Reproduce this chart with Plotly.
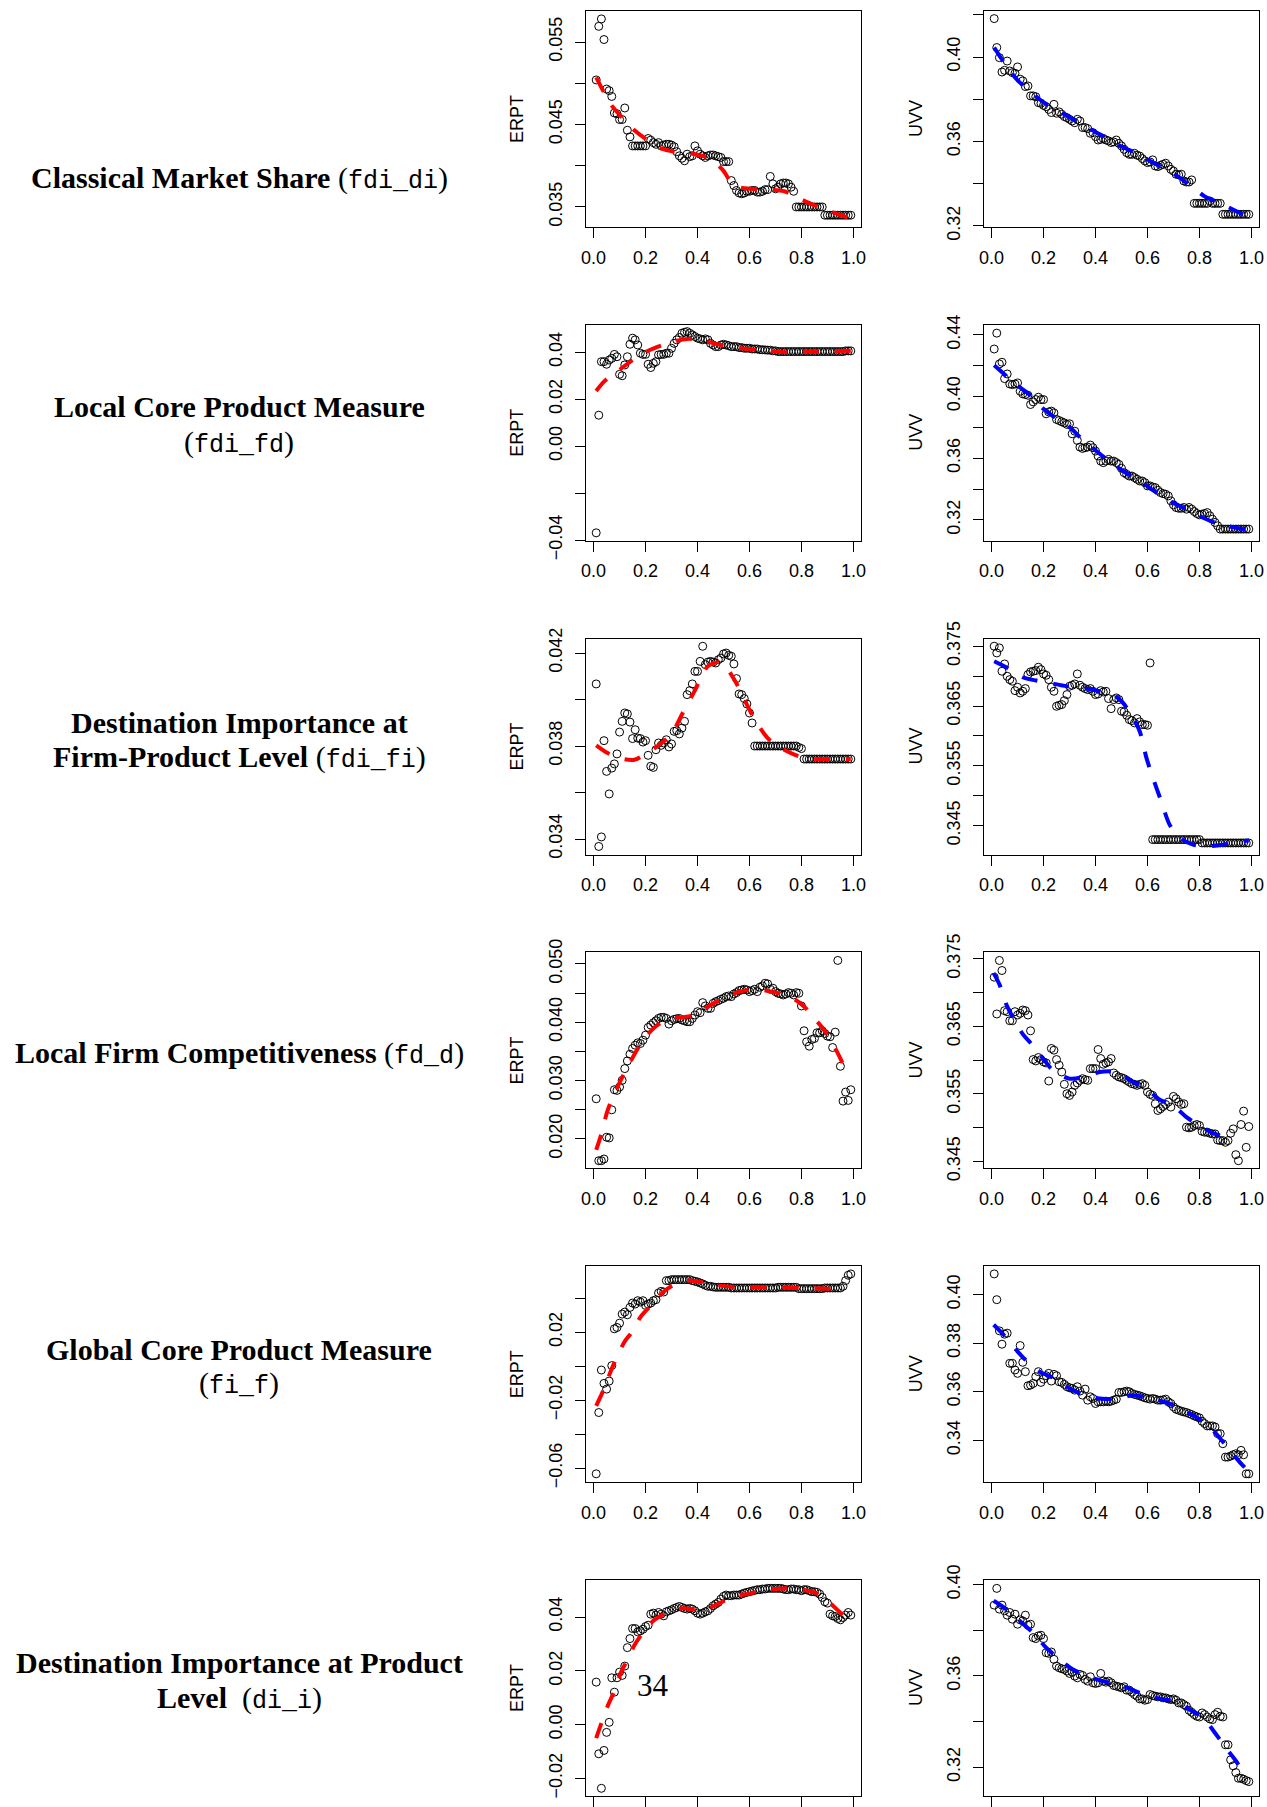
import plotly.graph_objects as go

W, H = 1267, 1807

# quantile grid (x axis of every panel)
X = [i / 100 for i in range(1, 100)]
X_TICKS = [0.0, 0.2, 0.4, 0.6, 0.8, 1.0]
X_TICKTEXT = ["0.0", "0.2", "0.4", "0.6", "0.8", "1.0"]

# ---------------- Row 1: fdi_di ----------------
erpt_fdi_di = [0.0504, 0.0569, 0.0578, 0.0553, 0.0493, 0.0491, 0.0484, 0.0464, 0.0463, 0.0456,
               0.0456, 0.0470, 0.0443, 0.0435, 0.0424, 0.0424, 0.0424, 0.0424, 0.0424, 0.0424,
               0.0433, 0.0431, 0.0428, 0.0426, 0.0428, 0.0424, 0.0425, 0.0426, 0.0426, 0.0425,
               0.0423, 0.0417, 0.0412, 0.0409, 0.0406, 0.0414, 0.0411, 0.0412, 0.0424, 0.0418,
               0.0414, 0.0412, 0.0410, 0.0412, 0.0413, 0.0413, 0.0412, 0.0411, 0.0410, 0.0405,
               0.0405, 0.0405, 0.0382, 0.0376, 0.0370, 0.0367, 0.0366, 0.0367, 0.0369, 0.0369,
               0.0370, 0.0370, 0.0368, 0.0368, 0.0369, 0.0371, 0.0371, 0.0387, 0.0378, 0.0372,
               0.0374, 0.0378, 0.0379, 0.0379, 0.0378, 0.0374, 0.0369, 0.0350, 0.0350, 0.0350,
               0.0350, 0.0350, 0.0350, 0.0350, 0.0350, 0.0350, 0.0350, 0.0350, 0.0340, 0.0340,
               0.0340, 0.0340, 0.0340, 0.0340, 0.0340, 0.0340, 0.0340, 0.0340, 0.0340]
erpt_fdi_di_fit_x = [0.01, 0.067, 0.108, 0.157, 0.208, 0.26, 0.31, 0.39, 0.445, 0.497, 0.54,
                     0.606, 0.657, 0.734, 0.779, 0.85, 0.90, 0.99]
erpt_fdi_di_fit_y = [0.0507, 0.0474, 0.0459, 0.0443, 0.0431, 0.0421, 0.0417, 0.0414, 0.0409,
                     0.0395, 0.0376, 0.0372, 0.0371, 0.0369, 0.0362, 0.0352, 0.0346, 0.0336]

uvv_fdi_di = [0.4182, 0.4045, 0.3997, 0.3929, 0.3937, 0.3981, 0.3934, 0.3926, 0.3923, 0.3953,
              0.3895, 0.3887, 0.3860, 0.3863, 0.3816, 0.3816, 0.3812, 0.3784, 0.3781, 0.3771,
              0.3765, 0.3752, 0.3737, 0.3776, 0.3734, 0.3740, 0.3729, 0.3718, 0.3713, 0.3705,
              0.3697, 0.3689, 0.3705, 0.3697, 0.3666, 0.3666, 0.3661, 0.3639, 0.3642, 0.3623,
              0.3607, 0.3610, 0.3614, 0.3607, 0.3603, 0.3595, 0.3598, 0.3607, 0.3591, 0.3579,
              0.3563, 0.3547, 0.3539, 0.3539, 0.3544, 0.3535, 0.3531, 0.3519, 0.3508, 0.3500,
              0.3503, 0.3513, 0.3484, 0.3481, 0.3487, 0.3492, 0.3497, 0.3484, 0.3468, 0.3460,
              0.3445, 0.3442, 0.3445, 0.3413, 0.3408, 0.3408, 0.3418, 0.3307, 0.3307, 0.3307,
              0.3307, 0.3307, 0.3307, 0.3318, 0.3307, 0.3307, 0.3307, 0.3307, 0.3255, 0.3255,
              0.3255, 0.3255, 0.3255, 0.3255, 0.3255, 0.3255, 0.3255, 0.3255, 0.3255]
uvv_fdi_di_fit_x = [0.01, 0.05, 0.1, 0.15, 0.2, 0.25, 0.3, 0.35, 0.4, 0.45, 0.5, 0.55, 0.6,
                    0.65, 0.7, 0.75, 0.78, 0.82, 0.86, 0.9, 0.95, 0.99]
uvv_fdi_di_fit_y = [0.4045, 0.3970, 0.3890, 0.3835, 0.3785, 0.3750, 0.3715, 0.3680, 0.3645,
                    0.3613, 0.3576, 0.3548, 0.3515, 0.3482, 0.3448, 0.3405, 0.3378, 0.3340,
                    0.3318, 0.3295, 0.3265, 0.3240]

# ---------------- Row 2: fdi_fd ----------------
erpt_fdi_fd = [-0.0369, 0.0132, 0.0360, 0.0360, 0.0349, 0.0367, 0.0374, 0.0391, 0.0381, 0.0306,
               0.0300, 0.0346, 0.0381, 0.0434, 0.0460, 0.0453, 0.0431, 0.0396, 0.0391, 0.0391,
               0.0349, 0.0335, 0.0353, 0.0360, 0.0389, 0.0391, 0.0391, 0.0396, 0.0396, 0.0417,
               0.0438, 0.0453, 0.0463, 0.0481, 0.0485, 0.0488, 0.0481, 0.0474, 0.0467, 0.0460,
               0.0457, 0.0453, 0.0457, 0.0453, 0.0438, 0.0431, 0.0424, 0.0424, 0.0431, 0.0434,
               0.0431, 0.0428, 0.0424, 0.0424, 0.0424, 0.0420, 0.0420, 0.0417, 0.0417, 0.0417,
               0.0414, 0.0414, 0.0414, 0.0411, 0.0411, 0.0410, 0.0409, 0.0409, 0.0406, 0.0406,
               0.0403, 0.0403, 0.0403, 0.0403, 0.0403, 0.0403, 0.0403, 0.0403, 0.0403, 0.0403,
               0.0403, 0.0403, 0.0403, 0.0403, 0.0403, 0.0403, 0.0403, 0.0403, 0.0403, 0.0403,
               0.0403, 0.0403, 0.0403, 0.0403, 0.0403, 0.0403, 0.0406, 0.0406, 0.0406]
erpt_fdi_fd_fit_x = [0.01, 0.04, 0.09, 0.15, 0.21, 0.26, 0.31, 0.36, 0.41, 0.465, 0.516, 0.593,
                     0.67, 0.747, 0.837, 0.99]
erpt_fdi_fd_fit_y = [0.0235, 0.0275, 0.0317, 0.0367, 0.0406, 0.0428, 0.0446, 0.0457, 0.0453,
                     0.0438, 0.0424, 0.0414, 0.0406, 0.0400, 0.0403, 0.0406]

uvv_fdi_fd = [0.4308, 0.4411, 0.4211, 0.4222, 0.4116, 0.4146, 0.4081, 0.4077, 0.4081, 0.4088,
              0.4034, 0.4017, 0.4013, 0.4008, 0.3948, 0.3965, 0.3980, 0.3995, 0.3980, 0.3980,
              0.3888, 0.3900, 0.3905, 0.3894, 0.3851, 0.3844, 0.3836, 0.3829, 0.3819, 0.3823,
              0.3758, 0.3775, 0.3715, 0.3672, 0.3663, 0.3668, 0.3672, 0.3685, 0.3668, 0.3646,
              0.3614, 0.3581, 0.3571, 0.3581, 0.3592, 0.3581, 0.3581, 0.3571, 0.3560, 0.3534,
              0.3506, 0.3495, 0.3484, 0.3484, 0.3474, 0.3463, 0.3452, 0.3452, 0.3441, 0.3420,
              0.3420, 0.3413, 0.3409, 0.3392, 0.3377, 0.3370, 0.3366, 0.3355, 0.3323, 0.3297,
              0.3280, 0.3275, 0.3275, 0.3280, 0.3269, 0.3280, 0.3269, 0.3254, 0.3241, 0.3232,
              0.3237, 0.3241, 0.3247, 0.3226, 0.3204, 0.3183, 0.3161, 0.3140, 0.3140, 0.3140,
              0.3140, 0.3140, 0.3140, 0.3140, 0.3140, 0.3140, 0.3140, 0.3140, 0.3140]
uvv_fdi_fd_fit_x = [0.01, 0.095, 0.146, 0.198, 0.249, 0.30, 0.345, 0.403, 0.448, 0.506, 0.57,
                    0.634, 0.673, 0.724, 0.775, 0.827, 0.878, 0.99]
uvv_fdi_fd_fit_y = [0.4202, 0.4077, 0.4012, 0.3922, 0.3857, 0.3801, 0.3728, 0.3646, 0.3586,
                    0.3517, 0.3452, 0.3377, 0.3334, 0.3290, 0.3247, 0.3204, 0.3172, 0.3133]

# ---------------- Row 3: fdi_fi ----------------
erpt_fdi_fi = [0.04067, 0.03368, 0.03409, 0.03823, 0.03691, 0.03594, 0.03705, 0.03723, 0.03766, 0.03860,
               0.03906, 0.03942, 0.03938, 0.03903, 0.03832, 0.03870, 0.03834, 0.03832, 0.03817, 0.03823,
               0.03760, 0.03713, 0.03708, 0.03784, 0.03813, 0.03803, 0.03813, 0.03827, 0.03796, 0.03809,
               0.03863, 0.03866, 0.03852, 0.03877, 0.03906, 0.04021, 0.04038, 0.04067, 0.04121, 0.04121,
               0.04164, 0.04229, 0.04150, 0.04161, 0.04164, 0.04161, 0.04157, 0.04171, 0.04178, 0.04196,
               0.04200, 0.04190, 0.04186, 0.04153, 0.04090, 0.04024, 0.04021, 0.04004, 0.03981, 0.03942,
               0.03899, 0.03800, 0.03800, 0.03800, 0.03800, 0.03800, 0.03800, 0.03800, 0.03800, 0.03800,
               0.03800, 0.03800, 0.03800, 0.03800, 0.03800, 0.03800, 0.03800, 0.03800, 0.03794, 0.03789,
               0.03744, 0.03744, 0.03744, 0.03744, 0.03744, 0.03744, 0.03744, 0.03744, 0.03744, 0.03744,
               0.03744, 0.03744, 0.03744, 0.03744, 0.03744, 0.03744, 0.03744, 0.03744, 0.03744]
erpt_fdi_fi_fit_x = [0.01, 0.054, 0.105, 0.157, 0.195, 0.246, 0.298, 0.343, 0.388, 0.44, 0.49,
                     0.542, 0.58, 0.618, 0.67, 0.721, 0.773, 0.824, 0.94, 0.99]
erpt_fdi_fi_fit_y = [0.03803, 0.03770, 0.03746, 0.03741, 0.03763, 0.03800, 0.03849, 0.03942,
                     0.04035, 0.04143, 0.04161, 0.04085, 0.04000, 0.03918, 0.03834, 0.03791,
                     0.03763, 0.03746, 0.03744, 0.03744]

uvv_fdi_fi = [0.37499, 0.37387, 0.37471, 0.37081, 0.37203, 0.36997, 0.36941, 0.36914, 0.36757, 0.36813,
              0.36718, 0.36746, 0.36791, 0.37025, 0.37070, 0.37081, 0.37092, 0.37148, 0.37109, 0.37036,
              0.37014, 0.36941, 0.36813, 0.36746, 0.36495, 0.36512, 0.36524, 0.36590, 0.36691, 0.36830,
              0.36847, 0.36869, 0.37036, 0.36847, 0.36813, 0.36791, 0.36774, 0.36791, 0.36746, 0.36691,
              0.36702, 0.36757, 0.36735, 0.36746, 0.36624, 0.36456, 0.36607, 0.36635, 0.36607, 0.36412,
              0.36401, 0.36345, 0.36273, 0.36256, 0.36217, 0.36289, 0.36234, 0.36189, 0.36189, 0.36178,
              0.37220, 0.34266, 0.34266, 0.34266, 0.34266, 0.34266, 0.34266, 0.34266, 0.34266, 0.34266,
              0.34266, 0.34266, 0.34266, 0.34266, 0.34266, 0.34266, 0.34266, 0.34266, 0.34266, 0.34266,
              0.34210, 0.34210, 0.34210, 0.34210, 0.34210, 0.34210, 0.34210, 0.34210, 0.34210, 0.34210,
              0.34210, 0.34210, 0.34210, 0.34210, 0.34210, 0.34210, 0.34210, 0.34210, 0.34210]
uvv_fdi_fi_fit_x = [0.01, 0.056, 0.12, 0.172, 0.223, 0.288, 0.352, 0.416, 0.467, 0.506, 0.544,
                    0.57, 0.596, 0.621, 0.653, 0.685, 0.724, 0.775, 0.827, 0.891, 0.968, 0.99]
uvv_fdi_fi_fit_y = [0.37248, 0.37148, 0.36981, 0.36925, 0.36886, 0.36830, 0.36802, 0.36747,
                    0.36691, 0.36551, 0.36300, 0.36078, 0.35632, 0.35297, 0.34907, 0.34517,
                    0.34294, 0.34182, 0.34154, 0.34182, 0.34238, 0.34250]

# ---------------- Row 4: fd_d ----------------
erpt_fd_d = [0.02688, 0.01627, 0.01627, 0.01656, 0.02029, 0.02017, 0.02499, 0.02843, 0.02832, 0.02889,
             0.03004, 0.03205, 0.03337, 0.03451, 0.03549, 0.03606, 0.03647, 0.03635, 0.03692, 0.03778,
             0.03910, 0.03951, 0.03991, 0.04025, 0.04065, 0.04083, 0.04083, 0.04065, 0.03968, 0.04025,
             0.04048, 0.04060, 0.04065, 0.04037, 0.04025, 0.04008, 0.04008, 0.04065, 0.04123, 0.04180,
             0.04163, 0.04335, 0.04278, 0.04237, 0.04237, 0.04323, 0.04352, 0.04369, 0.04392, 0.04410,
             0.04438, 0.04450, 0.04438, 0.04484, 0.04507, 0.04542, 0.04553, 0.04564, 0.04553, 0.04524,
             0.04542, 0.04564, 0.04524, 0.04599, 0.04622, 0.04668, 0.04656, 0.04564, 0.04582, 0.04524,
             0.04496, 0.04484, 0.04467, 0.04484, 0.04507, 0.04496, 0.04467, 0.04507, 0.04496, 0.04278,
             0.03853, 0.03664, 0.03589, 0.03704, 0.03721, 0.03819, 0.03819, 0.03853, 0.03807, 0.03761,
             0.03750, 0.03566, 0.03830, 0.05058, 0.03245, 0.02648, 0.02803, 0.02660, 0.02843]
erpt_fd_d_fit_x = [0.01, 0.028, 0.054, 0.092, 0.131, 0.182, 0.234, 0.285, 0.336, 0.388, 0.44,
                   0.49, 0.542, 0.593, 0.632, 0.683, 0.734, 0.773, 0.811, 0.85, 0.888, 0.927,
                   0.965, 0.978]
erpt_fd_d_fit_y = [0.01811, 0.02057, 0.02488, 0.02889, 0.03233, 0.03635, 0.03910, 0.04048,
                   0.04083, 0.04123, 0.04266, 0.04392, 0.04496, 0.04553, 0.04565, 0.04524,
                   0.04467, 0.04392, 0.04266, 0.04065, 0.03865, 0.03578, 0.03233, 0.03061]

uvv_fd_d = [0.37228, 0.36683, 0.37476, 0.37327, 0.36732, 0.36717, 0.36583, 0.36583, 0.36717, 0.36668,
            0.36692, 0.36742, 0.36732, 0.36668, 0.36434, 0.36008, 0.35988, 0.36038, 0.36008, 0.35973,
            0.35958, 0.35690, 0.36172, 0.36147, 0.36008, 0.35924, 0.35824, 0.35641, 0.35502, 0.35477,
            0.35527, 0.35626, 0.35661, 0.35700, 0.35725, 0.35710, 0.35700, 0.35874, 0.35874, 0.35874,
            0.36157, 0.36023, 0.35938, 0.35958, 0.35973, 0.36023, 0.35809, 0.35775, 0.35750, 0.35740,
            0.35725, 0.35700, 0.35676, 0.35651, 0.35641, 0.35626, 0.35641, 0.35651, 0.35626, 0.35527,
            0.35492, 0.35477, 0.35353, 0.35254, 0.35279, 0.35313, 0.35343, 0.35378, 0.35304, 0.35462,
            0.35428, 0.35378, 0.35343, 0.35353, 0.35006, 0.34996, 0.35006, 0.35031, 0.35046, 0.35031,
            0.34946, 0.34932, 0.34932, 0.34917, 0.34907, 0.34907, 0.34817, 0.34808, 0.34808, 0.34783,
            0.34808, 0.34917, 0.34981, 0.34599, 0.34510, 0.35046, 0.35244, 0.34708, 0.35016]
uvv_fd_d_fit_x = [0.008, 0.031, 0.056, 0.082, 0.12, 0.152, 0.198, 0.236, 0.30, 0.356, 0.416,
                  0.48, 0.544, 0.596, 0.647, 0.698, 0.75, 0.80, 0.852, 0.917]
uvv_fd_d_fit_y = [0.37288, 0.37114, 0.36831, 0.36633, 0.36385, 0.36246, 0.36023, 0.35849,
                  0.35725, 0.35750, 0.35824, 0.35824, 0.35676, 0.35576, 0.35413, 0.35328,
                  0.35155, 0.35031, 0.34917, 0.34847]

# ---------------- Row 5: fi_f ----------------
erpt_fi_f = [-0.06335, -0.02729, -0.00227, -0.01015, -0.01350, -0.00877, 0.00030, 0.02197, 0.02276, 0.02532,
             0.03064, 0.03182, 0.03025, 0.03458, 0.03714, 0.03655, 0.03852, 0.03773, 0.03852, 0.03576,
             0.03655, 0.03714, 0.03852, 0.03911, 0.04305, 0.04404, 0.04364, 0.05034, 0.05034, 0.05093,
             0.05093, 0.05093, 0.05093, 0.05093, 0.05093, 0.05093, 0.05093, 0.05034, 0.04995, 0.04956,
             0.04897, 0.04837, 0.04759, 0.04699, 0.04699, 0.04660, 0.04640, 0.04640, 0.04640, 0.04640,
             0.04640, 0.04640, 0.04601, 0.04601, 0.04601, 0.04601, 0.04601, 0.04601, 0.04601, 0.04601,
             0.04601, 0.04601, 0.04601, 0.04601, 0.04601, 0.04601, 0.04601, 0.04601, 0.04601, 0.04601,
             0.04640, 0.04640, 0.04640, 0.04640, 0.04640, 0.04640, 0.04640, 0.04640, 0.04562, 0.04562,
             0.04562, 0.04562, 0.04562, 0.04562, 0.04562, 0.04562, 0.04562, 0.04562, 0.04601, 0.04601,
             0.04601, 0.04601, 0.04601, 0.04601, 0.04601, 0.04699, 0.05034, 0.05350, 0.05428]
erpt_fi_f_fit_x = [0.01, 0.041, 0.073, 0.118, 0.144, 0.182, 0.221, 0.272, 0.311, 0.362, 0.413,
                   0.478, 0.542, 0.67, 0.798, 0.927, 0.955]
erpt_fi_f_fit_y = [-0.02335, -0.01310, -0.00030, 0.01409, 0.01941, 0.02926, 0.03576, 0.04404,
                   0.04798, 0.05034, 0.04956, 0.04759, 0.04660, 0.04640, 0.04601, 0.04562, 0.04601]

uvv_fi_f = [0.40855, 0.39793, 0.38510, 0.37959, 0.38372, 0.38414, 0.37172, 0.37172, 0.36897, 0.36759,
            0.37903, 0.37214, 0.36828, 0.36248, 0.36276, 0.36345, 0.36621, 0.36828, 0.36386, 0.36524,
            0.36662, 0.36759, 0.36441, 0.36717, 0.36662, 0.36414, 0.36386, 0.36303, 0.36207, 0.36166,
            0.36138, 0.36069, 0.36207, 0.36028, 0.35862, 0.36110, 0.35655, 0.35793, 0.35724, 0.35517,
            0.35586, 0.35586, 0.35586, 0.35614, 0.35586, 0.35614, 0.35655, 0.35697, 0.35972, 0.35972,
            0.36000, 0.36028, 0.36000, 0.35931, 0.35890, 0.35862, 0.35834, 0.35793, 0.35752, 0.35724,
            0.35697, 0.35724, 0.35697, 0.35655, 0.35655, 0.35669, 0.35697, 0.35586, 0.35517, 0.35379,
            0.35283, 0.35241, 0.35200, 0.35172, 0.35145, 0.35103, 0.35062, 0.35007, 0.34966, 0.34924,
            0.34786, 0.34690, 0.34593, 0.34593, 0.34593, 0.34552, 0.34276, 0.34276, 0.33862, 0.33310,
            0.33310, 0.33352, 0.33407, 0.33448, 0.33407, 0.33586, 0.33407, 0.32621, 0.32621]
uvv_fi_f_fit_x = [0.008, 0.044, 0.095, 0.127, 0.185, 0.236, 0.30, 0.352, 0.416, 0.48, 0.544,
                  0.608, 0.673, 0.737, 0.80, 0.852, 0.878, 0.917, 0.955, 0.994]
uvv_fi_f_fit_y = [0.38759, 0.38372, 0.37724, 0.37352, 0.36828, 0.36579, 0.36138, 0.35890,
                  0.35724, 0.35697, 0.35862, 0.35724, 0.35559, 0.35241, 0.34869, 0.34414,
                  0.34097, 0.33586, 0.33103, 0.32662]

# ---------------- Row 6: di_i ----------------
erpt_di_i = [0.01581, -0.01083, -0.02365, -0.00958, -0.00286, 0.00087, 0.01742, 0.01207, 0.01742, 0.01954,
             0.01830, 0.02178, 0.02863, 0.03199, 0.03572, 0.03572, 0.03448, 0.03485, 0.03547, 0.03647,
             0.03696, 0.04107, 0.04144, 0.04070, 0.04169, 0.04107, 0.04045, 0.04194, 0.04232, 0.04269,
             0.04319, 0.04356, 0.04393, 0.04356, 0.04319, 0.04294, 0.04319, 0.04294, 0.04232, 0.04144,
             0.04107, 0.04144, 0.04194, 0.04232, 0.04319, 0.04418, 0.04481, 0.04543, 0.04667, 0.04767,
             0.04817, 0.04792, 0.04792, 0.04817, 0.04817, 0.04817, 0.04854, 0.04891, 0.04916, 0.04941,
             0.04966, 0.04991, 0.05016, 0.05016, 0.05041, 0.05041, 0.05065, 0.05065, 0.05065, 0.05065,
             0.05065, 0.05065, 0.05041, 0.05016, 0.05016, 0.05041, 0.05041, 0.05016, 0.05016, 0.04978,
             0.05016, 0.05016, 0.04978, 0.04941, 0.04941, 0.04916, 0.04854, 0.04729, 0.04568, 0.04518,
             0.04107, 0.04045, 0.04020, 0.03945, 0.03896, 0.03983, 0.04070, 0.04169, 0.04070]
erpt_di_i_fit_x = [0.01, 0.028, 0.054, 0.08, 0.105, 0.131, 0.157, 0.195, 0.234, 0.285, 0.336,
                   0.388, 0.44, 0.49, 0.542, 0.593, 0.644, 0.696, 0.747, 0.798, 0.85, 0.90,
                   0.96, 0.99]
erpt_di_i_fit_y = [-0.00500, 0.00000, 0.00685, 0.01245, 0.01929, 0.02427, 0.02950, 0.03485,
                   0.03896, 0.04169, 0.04319, 0.04294, 0.04319, 0.04543, 0.04792, 0.04854,
                   0.04978, 0.05040, 0.05065, 0.05016, 0.04916, 0.04605, 0.04070, 0.03860]

uvv_di_i = [0.39102, 0.39836, 0.38926, 0.39102, 0.38853, 0.38662, 0.38779, 0.38486, 0.38706, 0.38266,
            0.38457, 0.38413, 0.38662, 0.38222, 0.38266, 0.37679, 0.37635, 0.37752, 0.37782, 0.37635,
            0.37018, 0.36989, 0.37048, 0.36725, 0.36432, 0.36358, 0.36314, 0.36285, 0.36211, 0.36109,
            0.36167, 0.35991, 0.35918, 0.36065, 0.36021, 0.35845, 0.35771, 0.35962, 0.35698, 0.35669,
            0.35698, 0.36109, 0.35771, 0.35727, 0.35771, 0.35698, 0.35580, 0.35551, 0.35522, 0.35478,
            0.35522, 0.35375, 0.35375, 0.35287, 0.35184, 0.35111, 0.34993, 0.34993, 0.34935, 0.34964,
            0.35184, 0.35140, 0.35111, 0.35082, 0.35082, 0.35038, 0.35038, 0.34993, 0.34964, 0.34993,
            0.34935, 0.34817, 0.34817, 0.34744, 0.34671, 0.34495, 0.34407, 0.34304, 0.34230, 0.34201,
            0.34377, 0.34304, 0.34201, 0.34113, 0.34084, 0.34304, 0.34407, 0.34230, 0.34201, 0.32983,
            0.32983, 0.32323, 0.32059, 0.31765, 0.31516, 0.31516, 0.31472, 0.31413, 0.31369]
uvv_di_i_fit_x = [0.008, 0.056, 0.108, 0.159, 0.21, 0.262, 0.313, 0.377, 0.441, 0.506, 0.57,
                  0.634, 0.698, 0.762, 0.814, 0.865, 0.897, 0.942, 0.968]
uvv_di_i_fit_y = [0.39293, 0.38926, 0.38412, 0.37899, 0.37239, 0.36725, 0.36285, 0.35962,
                  0.35727, 0.35551, 0.35257, 0.35037, 0.34891, 0.34524, 0.34157, 0.33423,
                  0.32910, 0.32250, 0.31736]

# ---------------- axis ticks ----------------
M = "\u2212"
yt_erpt_fdi_di = [0.035, 0.040, 0.045, 0.050, 0.055]
yl_erpt_fdi_di = ["0.035", "", "0.045", "", "0.055"]
yt_uvv_fdi_di = [0.32, 0.34, 0.36, 0.38, 0.40, 0.42]
yl_uvv_fdi_di = ["0.32", "", "0.36", "", "0.40", ""]
yt_erpt_fdi_fd = [-0.04, -0.02, 0.0, 0.02, 0.04]
yl_erpt_fdi_fd = [M + "0.04", "", "0.00", "0.02", "0.04"]
yt_uvv_fdi_fd = [0.32, 0.34, 0.36, 0.38, 0.40, 0.42, 0.44]
yl_uvv_fdi_fd = ["0.32", "", "0.36", "", "0.40", "", "0.44"]
yt_erpt_fdi_fi = [0.034, 0.036, 0.038, 0.040, 0.042]
yl_erpt_fdi_fi = ["0.034", "", "0.038", "", "0.042"]
yt_uvv_fdi_fi = [0.345, 0.350, 0.355, 0.360, 0.365, 0.370, 0.375]
yl_uvv_fdi_fi = ["0.345", "", "0.355", "", "0.365", "", "0.375"]
yt_erpt_fd_d = [0.020, 0.025, 0.030, 0.035, 0.040, 0.045, 0.050]
yl_erpt_fd_d = ["0.020", "", "0.030", "", "0.040", "", "0.050"]
yt_uvv_fd_d = [0.345, 0.350, 0.355, 0.360, 0.365, 0.370, 0.375]
yl_uvv_fd_d = ["0.345", "", "0.355", "", "0.365", "", "0.375"]
yt_erpt_fi_f = [-0.06, -0.04, -0.02, 0.0, 0.02, 0.04]
yl_erpt_fi_f = [M + "0.06", "", M + "0.02", "", "0.02", ""]
yt_uvv_fi_f = [0.34, 0.36, 0.38, 0.40]
yl_uvv_fi_f = ["0.34", "0.36", "0.38", "0.40"]
yt_erpt_di_i = [-0.02, 0.0, 0.02, 0.04]
yl_erpt_di_i = [M + "0.02", "0.00", "0.02", "0.04"]
yt_uvv_di_i = [0.32, 0.34, 0.36, 0.38, 0.40]
yl_uvv_di_i = ["0.32", "", "0.36", "", "0.40"]

TT = "<span style='font-family:Liberation Mono;font-size:25px'>%s</span>"
ROW_LABELS = [
    ["<b>Classical Market Share</b> (" + TT % "fdi_di" + ")"],
    ["<b>Local Core Product Measure</b>", "(" + TT % "fdi_fd" + ")"],
    ["<b>Destination Importance at</b>", "<b>Firm-Product Level</b> (" + TT % "fdi_fi" + ")"],
    ["<b>Local Firm Competitiveness</b> (" + TT % "fd_d" + ")"],
    ["<b>Global Core Product Measure</b>", "(" + TT % "fi_f" + ")"],
    ["<b>Destination Importance at Product</b>", "<b>Level</b>  (" + TT % "di_i" + ")"],
]
# vertical centre (pixels) of each text line, per row
ROW_LABEL_Y = [[178], [407, 442], [722, 757], [1053], [1349, 1383], [1662, 1698]]

# (points, fit x, fit y, colour, y title, y range, tick values, tick labels)
PANELS = [
    (erpt_fdi_di, erpt_fdi_di_fit_x, erpt_fdi_di_fit_y, "red", "ERPT", [0.03257, 0.05876], yt_erpt_fdi_di, yl_erpt_fdi_di),
    (uvv_fdi_di, uvv_fdi_di_fit_x, uvv_fdi_di_fit_y, "blue", "UVV", [0.3195, 0.4218], yt_uvv_fdi_di, yl_uvv_fdi_di),
    (erpt_fdi_fd, erpt_fdi_fd_fit_x, erpt_fdi_fd_fit_y, "red", "ERPT", [-0.0403, 0.0517], yt_erpt_fdi_fd, yl_erpt_fdi_fd),
    (uvv_fdi_fd, uvv_fdi_fd_fit_x, uvv_fdi_fd_fit_y, "blue", "UVV", [0.3064, 0.4465], yt_uvv_fdi_fd, yl_uvv_fdi_fd),
    (erpt_fdi_fi, erpt_fdi_fi_fit_x, erpt_fdi_fi_fit_y, "red", "ERPT", [0.03333, 0.04262], yt_erpt_fdi_fi, yl_erpt_fdi_fi),
    (uvv_fdi_fi, uvv_fdi_fi_fit_x, uvv_fdi_fi_fit_y, "blue", "UVV", [0.34015, 0.37627], yt_uvv_fdi_fi, yl_uvv_fdi_fi),
    (erpt_fd_d, erpt_fd_d_fit_x, erpt_fd_d_fit_y, "red", "ERPT", [0.01495, 0.05196], yt_erpt_fd_d, yl_erpt_fd_d),
    (uvv_fd_d, uvv_fd_d_fit_x, uvv_fd_d_fit_y, "blue", "UVV", [0.34396, 0.37595], yt_uvv_fd_d, yl_uvv_fd_d),
    (erpt_fi_f, erpt_fi_f_fit_x, erpt_fi_f_fit_y, "red", "ERPT", [-0.06828, 0.05882], yt_erpt_fi_f, yl_erpt_fi_f),
    (uvv_fi_f, uvv_fi_f_fit_x, uvv_fi_f_fit_y, "blue", "UVV", [0.32276, 0.41172], yt_uvv_fi_f, yl_uvv_fi_f),
    (erpt_di_i, erpt_di_i_fit_x, erpt_di_i_fit_y, "red", "ERPT", [-0.02651, 0.05376], yt_erpt_di_i, yl_erpt_di_i),
    (uvv_di_i, uvv_di_i_fit_x, uvv_di_i_fit_y, "blue", "UVV", [0.30738, 0.40203], yt_uvv_di_i, yl_uvv_di_i),
]

# ---------------- layout geometry (pixels) ----------------
COL_X = [(586, 861), (984, 1259)]
ROW_TOP0, ROW_STEP, BOX_H = 11, 313.8, 216
YTITLE_X = [517, 916]
LABEL_X = 239

TICK_FONT = dict(family="Liberation Sans, Arial, sans-serif", size=18, color="black")
colours = {"red": "#ff0000", "blue": "#0000ff"}

fig = go.Figure()
layout = dict(
    width=W, height=H, margin=dict(l=0, r=0, t=0, b=0, autoexpand=False),
    paper_bgcolor="white", plot_bgcolor="white", showlegend=False,
)
annotations = []
n_rows = len(PANELS) // 2

for k, (pts, fx, fy, col, ytitle, yr, tv, tl) in enumerate(PANELS):
    row, c = divmod(k, 2)
    sfx = "" if k == 0 else str(k + 1)
    xa, ya = "x" + sfx, "y" + sfx
    top = ROW_TOP0 + ROW_STEP * row
    bot = top + BOX_H
    x0, x1 = COL_X[c]

    fig.add_trace(go.Scatter(
        x=X, y=pts, mode="markers", xaxis=xa, yaxis=ya, hoverinfo="skip",
        marker=dict(symbol="circle-open", size=8, color="black", line=dict(width=1, color="black")),
    ))
    fig.add_trace(go.Scatter(
        x=fx, y=fy, mode="lines", xaxis=xa, yaxis=ya, hoverinfo="skip",
        line=dict(color=colours[col], width=4, dash="16px,16px", shape="spline", smoothing=0.8),
    ))

    common = dict(showgrid=False, zeroline=False, showline=True, mirror=True, linecolor="black",
                  linewidth=1, ticks="outside", ticklen=10, tickwidth=1, tickcolor="black",
                  tickfont=TICK_FONT, fixedrange=True, automargin=False)
    # the bottom row's x labels fall below the page edge in the reference
    layout["xaxis" + sfx] = dict(domain=[x0 / W, x1 / W], anchor=ya, range=[-0.0292, 1.0292],
                                 tickmode="array", tickvals=X_TICKS, ticktext=X_TICKTEXT,
                                 ticklabelstandoff=4, showticklabels=(row < n_rows - 1), **common)
    layout["yaxis" + sfx] = dict(domain=[1 - bot / H, 1 - top / H], anchor=xa, range=yr,
                                 tickmode="array", tickvals=tv, ticktext=tl, tickangle=-90,
                                 ticklabelstandoff=6, **common)

    annotations.append(dict(
        text=ytitle, textangle=-90, xref="paper", yref="paper",
        x=YTITLE_X[c] / W, y=1 - (top + bot) / 2 / H, xanchor="center", yanchor="middle",
        showarrow=False, font=dict(family="Liberation Sans, Arial, sans-serif", size=18, color="black"),
    ))

# row labels on the left
for lines, ys in zip(ROW_LABELS, ROW_LABEL_Y):
    for t, yc in zip(lines, ys):
        annotations.append(dict(
            text=t, xref="paper", yref="paper", x=LABEL_X / W, y=1 - yc / H,
            xanchor="center", yanchor="middle", showarrow=False,
            font=dict(family="Liberation Serif, Times New Roman, serif", size=30, color="black"),
        ))

# page number
annotations.append(dict(
    text="34", xref="paper", yref="paper", x=653 / W, y=1 - 1685 / H,
    xanchor="center", yanchor="middle", showarrow=False,
    font=dict(family="Liberation Serif, Times New Roman, serif", size=31, color="black"),
))

layout["annotations"] = annotations
fig.update_layout(**layout)
fig.write_html("out.html")
